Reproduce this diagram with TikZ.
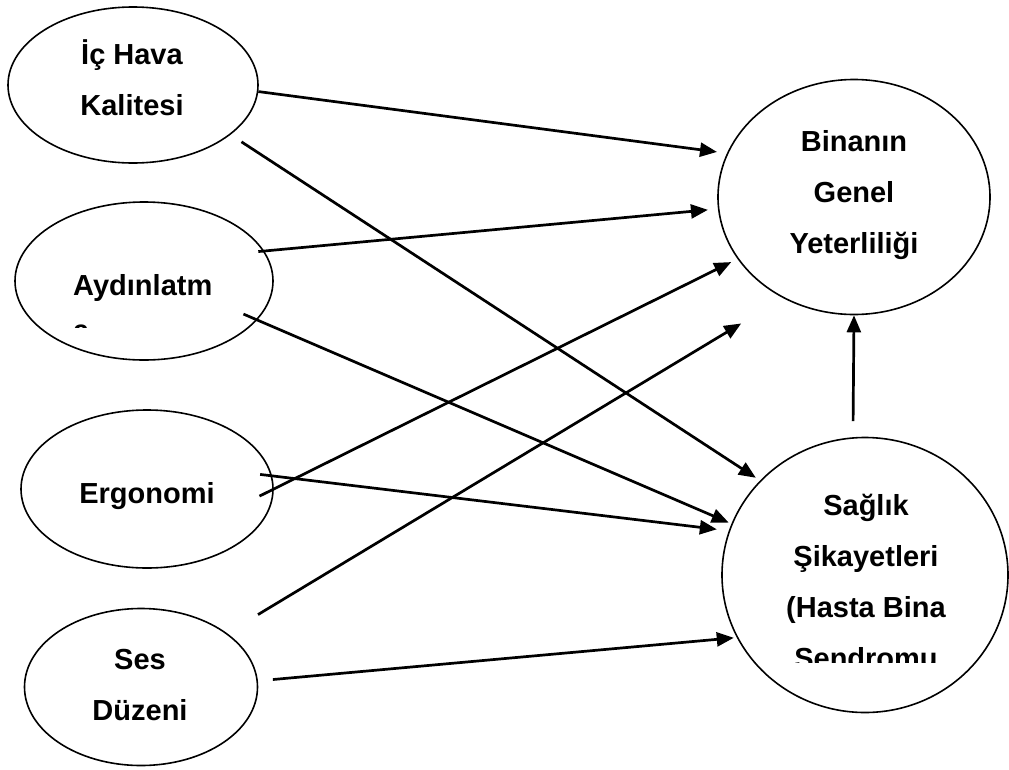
\documentclass[tikz,border=0pt]{standalone}
\usepackage{fontspec}
\setmainfont{Liberation Sans}
\usepackage{tikz}
\usetikzlibrary{shapes.geometric}
\usetikzlibrary{arrows.meta}

\tikzset{
  bubble/.style={draw, ellipse, line width=1.6pt, inner sep=0pt},
  lbl/.style={font=\fontsize{29}{51}\selectfont\bfseries, align=center, anchor=base, inner sep=0pt},
  link/.style={line width=2.7pt, -{Triangle[length=17pt,width=14pt]}},
}

\begin{document}
\begin{tikzpicture}[x=1pt,y=-1pt]
\useasboundingbox (0,0) rectangle (1009,769);

%air
\node[bubble, minimum width=250pt, minimum height=156pt] (air) at (133,85) {};
\node[lbl] (airtxt) at (132,115) {İç Hava\\Kalitesi};
%light
\node[bubble, minimum width=258pt, minimum height=158pt] (light) at (144,281) {};
\begin{scope}
\clip (0,200) rectangle (300,327);
\node[lbl, align=left, anchor=base west] (lighttxt) at (73,340) {Aydınlatm\\[-6pt]a};
\end{scope}
%ergo
\node[bubble, minimum width=252pt, minimum height=158pt] (ergo) at (147,489) {};
\node[lbl] (ergotxt) at (147,503) {Ergonomi};
%sound
\node[bubble, minimum width=233pt, minimum height=157pt] (sound) at (141,687) {};
\node[lbl] (soundtxt) at (140,720) {Ses\\Düzeni};

%perf
\node[bubble, minimum width=272pt, minimum height=235pt] (perf) at (854,197) {};
\node[lbl] (perftxt) at (854,253) {Binanın\\Genel\\Yeterliliği};
%health
\node[bubble, minimum width=286pt, minimum height=275pt] (health) at (865,575) {};
\begin{scope}
\clip (700,420) rectangle (1009,662);
\node[lbl] (healthtxt) at (866,668) {Sağlık\\Şikayetleri\\(Hasta Bina\\Sendromu};
\end{scope}

%arrows
\draw[link, shorten >=10pt] (air.-3) -- (perf.161);
\draw[link, shorten <=13pt, shorten >=5pt] (air.-27) -- (health.138);
\draw[link, shorten <=-6pt, shorten >=10pt] (light.14) -- (perf.185);
\draw[link, shorten <=-15pt, shorten >=3pt] (light.-19) -- (health.159);
\draw[link, shorten <=-16pt, shorten >=7pt] (ergo.0) -- (perf.208);
\draw[link, shorten <=-12pt, shorten >=12pt] (ergo.6) -- (health.162);
\draw[link, shorten <=36pt, shorten >=49pt] (sound.32) -- (perf.235);
\draw[link, shorten <=15pt, shorten >=3pt] (sound.3) -- (health.206);
\draw[link, shorten <=16pt] (health.95) -- (perf.270);

\end{tikzpicture}
\end{document}
